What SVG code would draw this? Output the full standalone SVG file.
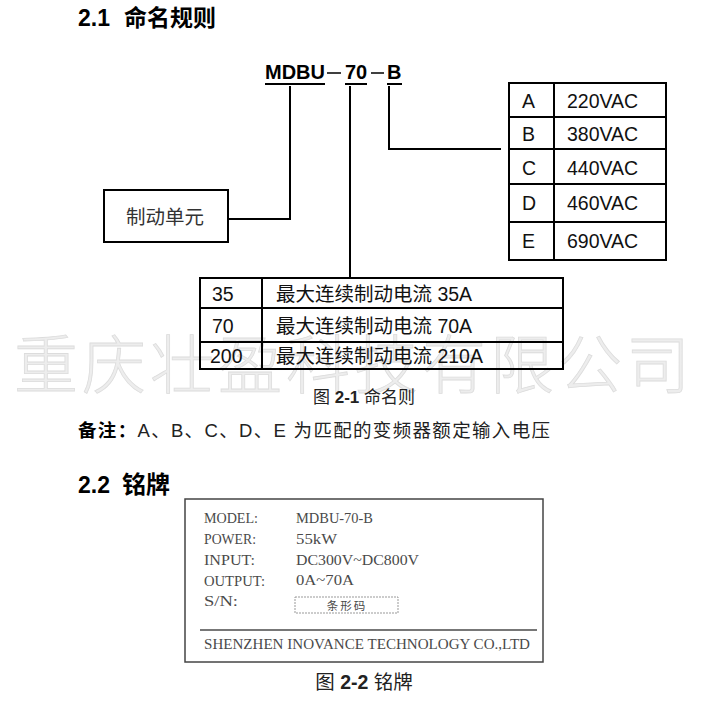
<svg xmlns="http://www.w3.org/2000/svg" width="705" height="705" viewBox="0 0 705 705">
<style>
.h{font-family:"Liberation Sans","Noto Sans CJK SC",sans-serif;font-weight:bold;font-size:23px;fill:#000}
.t{font-family:"Liberation Sans","Noto Sans CJK SC",sans-serif;font-size:19.5px;fill:#111}
.c{font-family:"Liberation Sans","Noto Sans CJK SC",sans-serif;font-size:17px;fill:#222}
.m{font-family:"Liberation Sans",sans-serif;font-weight:bold;font-size:20px;fill:#000}
.box{fill:none;stroke:#000;stroke-width:2}
.ln{fill:none;stroke:#000;stroke-width:2}
.np{font-family:"Liberation Serif","Noto Sans CJK SC",serif;font-size:15px;fill:#4a4a4a}
.wm{font-family:"Noto Sans CJK SC",sans-serif;font-weight:300;font-size:64px;fill:#ededed;stroke:#dcdcdc;stroke-width:0.8}
</style>
<rect width="705" height="705" fill="#fff"/>
<g id="watermark"><text class="wm" x="14" y="388" textLength="676" lengthAdjust="spacing">重庆壮盈科技有限公司</text></g>
<text class="h" x="78" y="26">2.1</text><text class="h" x="124" y="26">命名规则</text>
<g id="model-code">
<text class="m" x="265" y="79" textLength="60">MDBU</text>
<text class="m" x="345" y="79" textLength="22">70</text>
<text class="m" x="387" y="79">B</text>
<path class="ln" d="M265 84H325M345 84H367M387 84H402"/>
<path d="M327 73H341M371 73H384" stroke="#000" stroke-width="1.5"/>
</g>
<g id="connectors">
<path class="ln" d="M290 86V219H228"/>
<path class="ln" d="M350 86V278"/>
<path class="ln" d="M389 86V149H501"/>
</g>
<g id="node-unit">
<rect class="box" x="104" y="190" width="124" height="52"/>
<text class="t" x="165" y="224" text-anchor="middle" style="fill:#333">制动单元</text>
</g>
<g id="node-voltage">
<rect class="box" x="509" y="83" width="157" height="177"/>
<path class="ln" d="M554 83V260M509 117H666M509 149H666M509 184H666M509 222H666"/>
<text class="t" x="522" y="108">A</text><text class="t" x="567" y="108">220VAC</text>
<text class="t" x="522" y="141">B</text><text class="t" x="567" y="141">380VAC</text>
<text class="t" x="522" y="175">C</text><text class="t" x="567" y="175">440VAC</text>
<text class="t" x="522" y="210">D</text><text class="t" x="567" y="210">460VAC</text>
<text class="t" x="522" y="248">E</text><text class="t" x="567" y="248">690VAC</text>
</g>
<g id="node-current">
<rect class="box" x="200" y="278" width="363" height="91"/>
<path class="ln" d="M262 278V369M200 308H563M200 342H563"/>
<text class="t" x="212" y="301">35</text><text class="t" x="276" y="301">最大连续制动电流 35A</text>
<text class="t" x="212" y="333">70</text><text class="t" x="276" y="333">最大连续制动电流 70A</text>
<text class="t" x="210" y="363">200</text><text class="t" x="276" y="363">最大连续制动电流 210A</text>
</g>
<text class="c" x="364" y="403" text-anchor="middle">图 <tspan font-weight="bold">2-1</tspan> 命名则</text>
<text class="c" x="78" y="437" style="font-size:18.5px" textLength="472" lengthAdjust="spacing"><tspan font-weight="bold" fill="#000">备注：</tspan>A、B、C、D、E 为匹配的变频器额定输入电压</text>
<text class="h" x="78" y="493">2.2</text><text class="h" x="122" y="493" style="font-size:24px">铭牌</text>
<g id="nameplate">
<rect x="185" y="499" width="358" height="163" fill="none" stroke="#444" stroke-width="1.5"/>
<text class="np" x="204" y="523" textLength="54" lengthAdjust="spacingAndGlyphs">MODEL:</text><text class="np" x="296" y="523" textLength="77" lengthAdjust="spacingAndGlyphs">MDBU-70-B</text>
<text class="np" x="204" y="544" textLength="52" lengthAdjust="spacingAndGlyphs">POWER:</text><text class="np" x="296" y="544" textLength="41" lengthAdjust="spacingAndGlyphs">55kW</text>
<text class="np" x="204" y="565" textLength="51" lengthAdjust="spacingAndGlyphs">INPUT:</text><text class="np" x="296" y="565" textLength="123" lengthAdjust="spacingAndGlyphs">DC300V~DC800V</text>
<text class="np" x="204" y="586" textLength="61" lengthAdjust="spacingAndGlyphs">OUTPUT:</text><text class="np" x="296" y="585" textLength="58" lengthAdjust="spacingAndGlyphs">0A~70A</text>
<text class="np" x="204" y="606" textLength="34" lengthAdjust="spacingAndGlyphs">S/N:</text>
<rect x="295" y="597" width="103" height="16" fill="none" stroke="#999" stroke-width="1" stroke-dasharray="2 1"/>
<text class="np" x="347" y="610" text-anchor="middle" style="font-family:'Noto Sans CJK SC',serif;font-size:11.5px;letter-spacing:2px">条形码</text>
<path d="M200 630H537" stroke="#777" stroke-width="2"/>
<text class="np" x="204" y="649" textLength="326" lengthAdjust="spacingAndGlyphs">SHENZHEN  INOVANCE  TECHNOLOGY CO.,LTD</text>
</g>
<text class="c" x="364" y="689" text-anchor="middle" style="font-size:19.5px">图 <tspan font-weight="bold">2-2</tspan> 铭牌</text>
</svg>
